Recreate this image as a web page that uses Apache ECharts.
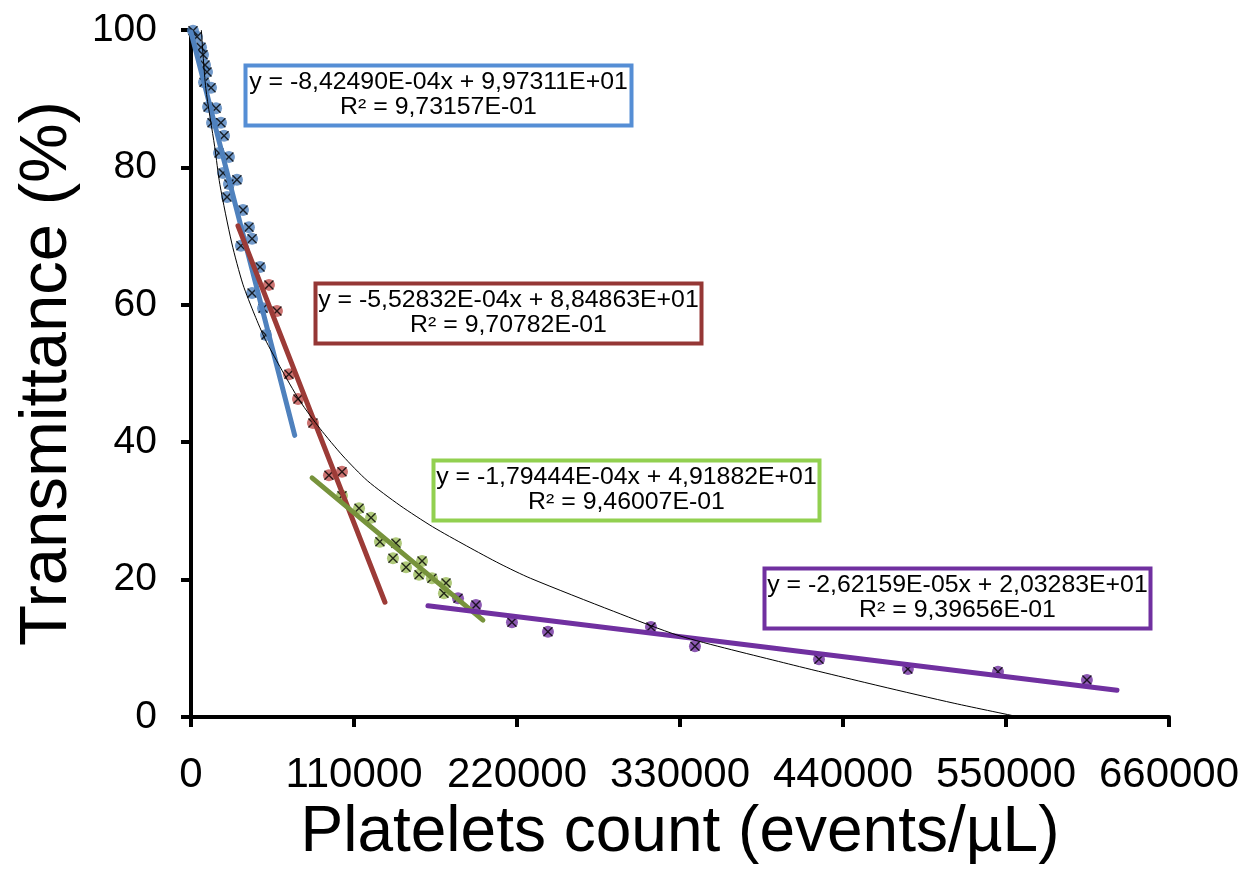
<!DOCTYPE html>
<html>
<head>
<meta charset="utf-8">
<script src="https://cdn.jsdelivr.net/npm/echarts@6/dist/echarts.min.js"></script>
<style>
  html, body { margin: 0; padding: 0; background: #fff; }
  #chart { width: 1254px; height: 891px; }
</style>
</head>
<body>
<div id="chart"></div>
<script>
  // measured points (platelets count, transmittance %)
  const bluePts = [[1350, 99.9], [4050, 99.0], [6750, 97.5], [8100, 96.4], [9450, 94.9], [10800, 93.9], [8800, 92.4],
    [13500, 91.6], [11500, 88.8], [16900, 88.6], [14200, 86.5], [20200, 86.5], [22300, 84.6], [18900, 82.1],
    [25600, 81.5], [21600, 79.2], [31000, 78.2], [25600, 77.6], [24300, 75.7], [35100, 73.8], [39100, 71.3],
    [41200, 69.6], [33700, 68.6], [46600, 65.5], [41200, 61.7], [48600, 59.5], [50600, 55.6]]
  const redPts = [[52600, 62.9], [58000, 59.1], [66100, 49.9], [72200, 46.3], [82300, 42.8], [93100, 35.2], [101900, 35.7]]
  const greenPts = [[101900, 32.2], [113400, 30.4], [121500, 29.0], [127500, 25.5], [138300, 25.3], [136300, 23.1],
    [145100, 21.8], [155900, 22.7], [153900, 20.7], [162600, 20.2], [172100, 19.5], [170700, 18.0]]
  const purplePts = [[180200, 17.3], [192300, 16.3], [216600, 13.8], [240900, 12.4], [310400, 13.1], [340100, 10.3],
    [423800, 8.4], [483800, 7.0], [544600, 6.6], [604600, 5.4]]

  // trendline ends
  const blueFit = [[0, 99.7], [70000, 41.0]]
  const redFit = [[31700, 71.5], [130900, 16.7]]
  const greenFit = [[81700, 34.8], [197000, 14.1]]
  const purpleFit = [[159900, 16.2], [624900, 3.9]]

  // thin black overall curve
  const curvePts = [[7000, 100], [10000, 91.5], [16000, 83], [19500, 77.5], [27500, 69], [35000, 63], [43000, 58.5],
    [50000, 55], [60000, 51], [73500, 46], [87000, 42], [102500, 38], [119000, 34.4], [141000, 30.8],
    [163000, 27.7], [186000, 24.9], [208500, 22.3], [229000, 20.2], [285000, 15.4], [330000, 11.8],
    [400000, 7.9], [465000, 4.5], [515000, 2.0], [559000, 0]]

  const fitLabels = [
    ['y = -8,42490E-04x + 9,97311E+01', 'R² = 9,73157E-01'],
    ['y = -5,52832E-04x + 8,84863E+01', 'R² = 9,70782E-01'],
    ['y = -1,79444E-04x + 4,91882E+01', 'R² = 9,46007E-01'],
    ['y = -2,62159E-05x + 2,03283E+01', 'R² = 9,39656E-01']
  ]

  const font = '"Liberation Sans", Arial, sans-serif'
  const crossPath = 'path://M0,1L1,0L5,4L9,0L10,1L6,5L10,9L9,10L5,6L1,10L0,9L4,5Z'

  const pointSeries = (pts, color) => [{
    type: 'scatter',
    data: pts,
    symbol: 'circle',
    symbolSize: 12,
    itemStyle: { color: color },
    z: 2
  }, {
    type: 'scatter',
    data: pts,
    symbol: crossPath,
    symbolSize: 10,
    itemStyle: { color: '#000' },
    z: 3
  }]

  const fitSeries = (pts, color) => ({
    type: 'line',
    data: pts,
    symbol: 'none',
    lineStyle: { color: color, width: 5, cap: 'round' },
    z: 4
  })

  const labelBox = (lines, color, left, top) => ({
    type: 'group',
    left: left,
    top: top,
    children: [{
      type: 'rect',
      shape: { x: 2, y: 2, width: 386, height: 60 },
      style: { fill: 'none', stroke: color, lineWidth: 4 }
    }, {
      type: 'text',
      x: 195, y: 19, scaleX: 1.08,
      style: { text: lines[0], fontSize: 23, fontFamily: font, fill: '#000', textAlign: 'center', textVerticalAlign: 'middle' }
    }, {
      type: 'text',
      x: 195, y: 44, scaleX: 1.08,
      style: { text: lines[1], fontSize: 23, fontFamily: font, fill: '#000', textAlign: 'center', textVerticalAlign: 'middle' }
    }]
  })

  const chart = echarts.init(document.getElementById('chart'))
  chart.setOption({
    animation: false,
    backgroundColor: '#fff',
    grid: { left: 191, right: 85, top: 30, bottom: 174 },
    xAxis: {
      type: 'value',
      min: 0,
      max: 660000,
      interval: 110000,
      name: 'Platelets count (events/µL)',
      nameLocation: 'middle',
      nameGap: 84,
      nameTextStyle: { fontSize: 64, fontFamily: font, color: '#000' },
      axisLine: { lineStyle: { color: '#000', width: 4 } },
      axisTick: { show: true, length: 10, lineStyle: { color: '#000', width: 4 } },
      axisLabel: { fontSize: 42, fontFamily: font, color: '#000', margin: 37, formatter: v => String(v) },
      splitLine: { show: false }
    },
    yAxis: {
      type: 'value',
      min: 0,
      max: 100,
      interval: 20,
      name: 'Transmittance (%)',
      nameLocation: 'middle',
      nameRotate: 90,
      nameGap: 110,
      nameTextStyle: { fontSize: 67, fontFamily: font, color: '#000' },
      axisLine: { show: true, lineStyle: { color: '#000', width: 4 } },
      axisTick: { show: true, length: 10, lineStyle: { color: '#000', width: 4 } },
      axisLabel: { fontSize: 39, fontFamily: font, color: '#000', margin: 34 },
      splitLine: { show: false }
    },
    series: [
      ...pointSeries(bluePts, '#4F81BD'),
      ...pointSeries(redPts, '#C0504D'),
      ...pointSeries(greenPts, '#9BBB59'),
      ...pointSeries(purplePts, '#7030A0'),
      fitSeries(blueFit, '#4F81BD'),
      fitSeries(redFit, '#9C3B37'),
      fitSeries(greenFit, '#77933C'),
      fitSeries(purpleFit, '#7030A0'),
      {
        type: 'line',
        data: curvePts,
        symbol: 'none',
        smooth: 0.25,
        lineStyle: { color: '#000', width: 1 },
        z: 5
      }
    ],
    graphic: [
      labelBox(fitLabels[0], '#558ED5', 243, 63),
      labelBox(fitLabels[1], '#953735', 313, 281),
      labelBox(fitLabels[2], '#92D050', 431, 458),
      labelBox(fitLabels[3], '#7030A0', 762, 566)
    ]
  })
</script>
</body>
</html>
